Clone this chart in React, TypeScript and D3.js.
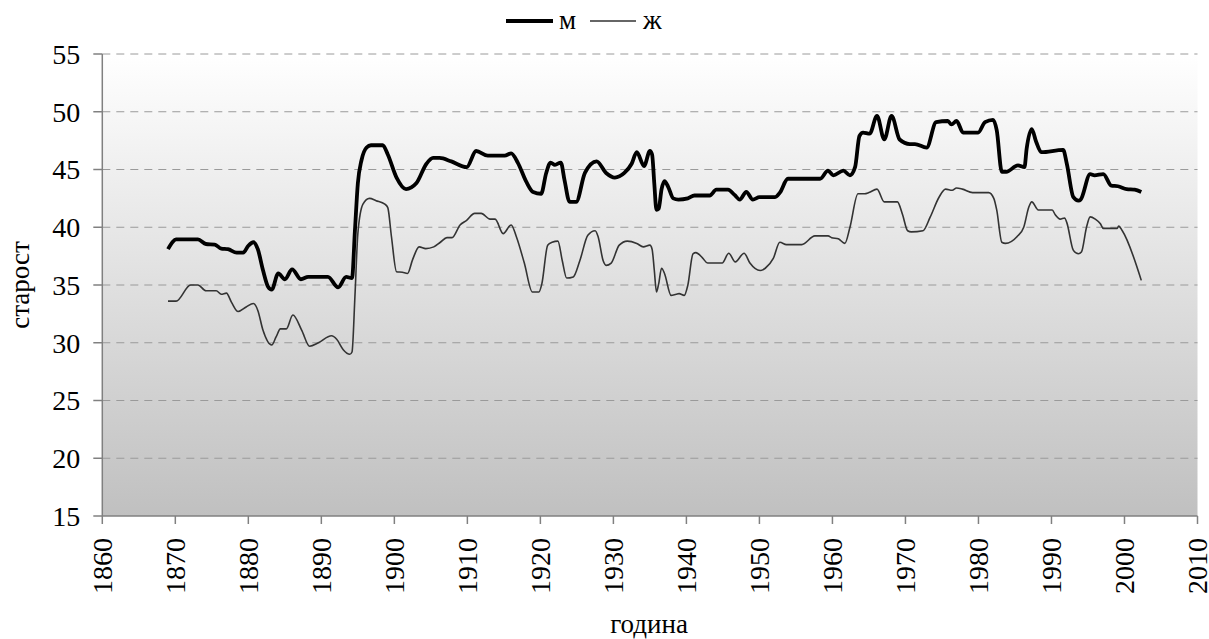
import React from "react";
import * as d3 from "d3";

const maleYears = [1869.0,1869.6,1870.1,1873.1,1874.2,1875.4,1876.3,1877.2,1878.4,1879.3,1880.0,1880.7,1881.3,1882.0,1882.7,1883.2,1884.1,1885.0,1886.0,1887.2,1888.2,1890.9,1892.3,1893.4,1894.2,1894.6,1895.0,1895.5,1896.2,1896.8,1898.4,1899.1,1900.3,1901.6,1903.0,1904.4,1905.3,1906.2,1907.8,1909.9,1911.2,1912.8,1915.1,1916.0,1916.9,1918.1,1919.0,1920.1,1920.8,1921.4,1922.0,1922.8,1923.3,1924.0,1924.9,1926.1,1927.7,1929.0,1930.2,1931.5,1932.5,1933.2,1934.2,1935.0,1935.3,1935.6,1935.9,1936.2,1936.6,1937.0,1937.5,1938.2,1938.9,1940.2,1941.1,1943.2,1944.1,1945.7,1946.6,1947.3,1948.2,1949.1,1950.0,1952.1,1952.8,1953.9,1958.3,1959.4,1960.1,1961.5,1962.4,1963.1,1963.7,1964.2,1965.1,1966.1,1967.1,1968.1,1969.2,1970.6,1971.3,1972.9,1974.2,1975.8,1976.3,1977.0,1977.9,1979.95,1980.9,1982.0,1982.5,1983.2,1983.8,1985.4,1986.3,1986.6,1987.3,1987.9,1988.6,1991.6,1992.1,1993.0,1993.7,1994.0,1995.3,1995.9,1997.1,1998.2,1999.1,2000.3,2001.4,2002.3];
const maleValues = [38.1,38.7,38.95,38.95,38.55,38.5,38.15,38.1,37.8,37.8,38.4,38.7,38.1,36.3,34.85,34.6,36.0,35.5,36.35,35.5,35.7,35.7,34.8,35.7,35.6,39.7,43.8,45.8,46.9,47.1,47.1,46.3,44.3,43.3,43.8,45.5,46.0,46.0,45.7,45.2,46.6,46.2,46.2,46.4,45.6,43.9,43.05,42.9,44.7,45.6,45.4,45.6,44.1,42.2,42.2,44.7,45.7,44.7,44.3,44.7,45.5,46.5,45.3,46.6,46.3,43.8,41.5,41.6,43.3,44.0,43.5,42.5,42.4,42.5,42.75,42.75,43.25,43.25,42.8,42.4,43.05,42.4,42.6,42.6,43.0,44.2,44.2,44.9,44.5,44.9,44.5,45.2,47.9,48.2,48.1,49.65,47.6,49.65,47.6,47.2,47.2,46.9,49.1,49.2,48.9,49.2,48.2,48.2,49.1,49.3,48.4,44.8,44.8,45.35,45.2,46.8,48.5,47.4,46.5,46.7,45.5,42.6,42.3,42.4,44.6,44.5,44.6,43.6,43.55,43.3,43.25,43.05];

const femaleYears = [1869.0,1870.1,1872.1,1873.1,1874.2,1875.6,1876.3,1877.0,1877.7,1878.6,1879.7,1880.7,1881.3,1882.0,1883.2,1883.8,1884.4,1885.2,1886.1,1887.3,1888.4,1889.6,1891.4,1892.1,1893.0,1893.9,1894.2,1894.6,1895.0,1895.7,1896.6,1897.5,1898.7,1899.1,1899.6,1900.3,1901.1,1901.8,1902.5,1903.4,1904.3,1905.4,1906.3,1907.2,1907.9,1909.0,1909.9,1911.0,1911.9,1913.1,1913.8,1914.9,1916.0,1916.7,1917.8,1918.9,1919.8,1920.2,1921.0,1921.6,1922.4,1923.0,1923.6,1924.5,1925.4,1926.5,1927.5,1927.9,1928.6,1929.0,1929.7,1930.8,1931.9,1933.2,1934.1,1935.0,1935.3,1935.6,1935.9,1936.2,1936.6,1937.0,1937.9,1938.6,1939.0,1939.7,1940.2,1940.9,1941.3,1942.2,1942.9,1944.9,1945.8,1946.7,1947.9,1948.7,1950.1,1950.8,1951.9,1952.8,1953.7,1955.8,1957.6,1959.4,1959.9,1960.8,1961.7,1962.4,1963.5,1964.4,1965.0,1966.1,1967.1,1968.9,1969.6,1970.3,1970.8,1972.4,1973.4,1974.6,1975.5,1976.4,1977.0,1977.8,1979.2,1981.4,1982.1,1982.5,1983.2,1983.7,1985.3,1986.2,1986.9,1987.3,1988.2,1990.1,1990.5,1991.2,1991.8,1992.1,1993.0,1993.7,1994.1,1994.8,1995.3,1996.0,1996.7,1997.1,1999.0,1999.2,1999.7,2002.3];
const femaleValues = [33.6,33.6,35.0,35.0,34.5,34.5,34.2,34.3,33.5,32.7,33.1,33.4,32.8,31.1,29.8,30.5,31.2,31.2,32.4,31.1,29.7,30.0,30.6,30.3,29.4,29.0,29.2,34.0,39.45,42.0,42.5,42.3,42.0,41.7,39.2,36.15,36.1,36.0,37.2,38.3,38.15,38.3,38.7,39.1,39.1,40.2,40.6,41.2,41.2,40.7,40.7,39.45,40.2,39.2,36.9,34.4,34.4,35.1,38.45,38.7,38.8,37.1,35.6,35.7,37.1,39.3,39.7,39.2,37.1,36.7,36.9,38.45,38.8,38.6,38.3,38.45,38.1,36.3,34.4,35.1,36.45,36.0,34.1,34.2,34.25,34.1,35.0,37.7,37.8,37.35,36.9,36.9,37.75,37.0,37.75,36.9,36.25,36.45,37.3,38.7,38.5,38.5,39.25,39.25,39.1,39.0,38.6,40.0,42.9,42.9,43.0,43.3,42.2,42.2,41.1,39.7,39.6,39.7,40.9,42.6,43.3,43.2,43.4,43.3,43.0,43.0,42.5,41.5,38.7,38.6,39.2,40.0,41.75,42.2,41.5,41.5,41.1,40.7,40.8,40.4,38.0,37.7,37.85,40.0,40.9,40.7,40.3,39.9,39.9,40.1,39.7,35.4];

const xTicks = d3.range(1860, 2011, 10);
const yTicks = d3.range(15, 56, 5);
const seriesNames = ["м", "ж"];
const xTitle = "година";
const yTitle = "старост";

const FONT = '"Liberation Serif"';

export default function App() {
  const W = 1209, H = 639;
  const left = 102.3, right = 1197.5, top = 54, bottom = 516;
  const x = d3.scaleLinear().domain([1860, 2010]).range([left, right]);
  const y = d3.scaleLinear().domain([15, 55]).range([bottom, top]);
  const line = d3.line<[number, number]>().x(d => x(d[0])).y(d => y(d[1])).curve(d3.curveMonotoneX);
  const male = maleYears.map((yr, i) => [yr, maleValues[i]] as [number, number]);
  const female = femaleYears.map((yr, i) => [yr, femaleValues[i]] as [number, number]);
  const ts = { fontFamily: FONT };
  return (
    <div style={{ fontFamily: FONT, position: "absolute", left: 0, top: 0, width: W, height: H }}>
      <svg width={W} height={H} fontFamily="Liberation Serif" style={{ display: "block", background: "#fff", fontFamily: FONT }}>
        <style>{`text { font-family: "Liberation Serif", "Times New Roman", serif; }`}</style>
        <defs>
          <linearGradient id="bg" x1="0" y1="0" x2="0" y2="1">
            <stop offset="0" stopColor="#ffffff" />
            <stop offset="1" stopColor="#c0c0c0" />
          </linearGradient>
        </defs>
        <rect x={left} y={top} width={right - left} height={bottom - top} fill="url(#bg)" />
        {yTicks.filter(t => t > 15).map(t => (
          <line key={"g" + t} x1={left} x2={right} y1={y(t)} y2={y(t)} stroke="#9a9a9a" strokeWidth={1} strokeDasharray="8,6" />
        ))}
        <line x1={left} x2={left} y1={top} y2={bottom} stroke="#808080" strokeWidth={1.5} />
        <line x1={left} x2={right} y1={bottom} y2={bottom} stroke="#808080" strokeWidth={1.5} />
        {yTicks.map(t => (
          <g key={"y" + t}>
            <line x1={left - 9} x2={left} y1={y(t)} y2={y(t)} stroke="#808080" strokeWidth={1.5} />
            <text x={left - 22} y={y(t)} dy="0.35em" textAnchor="end" fontSize={28} fill="#000" style={ts}>{t}</text>
          </g>
        ))}
        {xTicks.map(t => (
          <g key={"x" + t}>
            <line x1={x(t)} x2={x(t)} y1={bottom} y2={bottom + 8} stroke="#808080" strokeWidth={1.5} />
            <text transform={`translate(${x(t)},${bottom + 22}) rotate(-90)`} dy="0.35em" textAnchor="end" fontSize={28} fill="#000" style={ts}>{t}</text>
          </g>
        ))}
        <path d={line(female) || ""} fill="none" stroke="#333" strokeWidth={1.6} />
        <path d={line(male) || ""} fill="none" stroke="#000" strokeWidth={3.8} strokeLinejoin="round" />
        <text transform={`translate(29,285) rotate(-90)`} textAnchor="middle" fontSize={27} fill="#000" style={ts}>{yTitle}</text>
        <text x={649} y={633} textAnchor="middle" fontSize={27} fill="#000" style={ts}>{xTitle}</text>
        <line x1={506} x2={553} y1={21} y2={21} stroke="#000" strokeWidth={3.8} />
        <text x={559} y={28.5} fontSize={27} fill="#000" style={ts}>{seriesNames[0]}</text>
        <line x1={590} x2={636} y1={21} y2={21} stroke="#333" strokeWidth={1.6} />
        <text x={643} y={28.5} fontSize={27} fill="#000" style={ts}>{seriesNames[1]}</text>
      </svg>
    </div>
  );
}
